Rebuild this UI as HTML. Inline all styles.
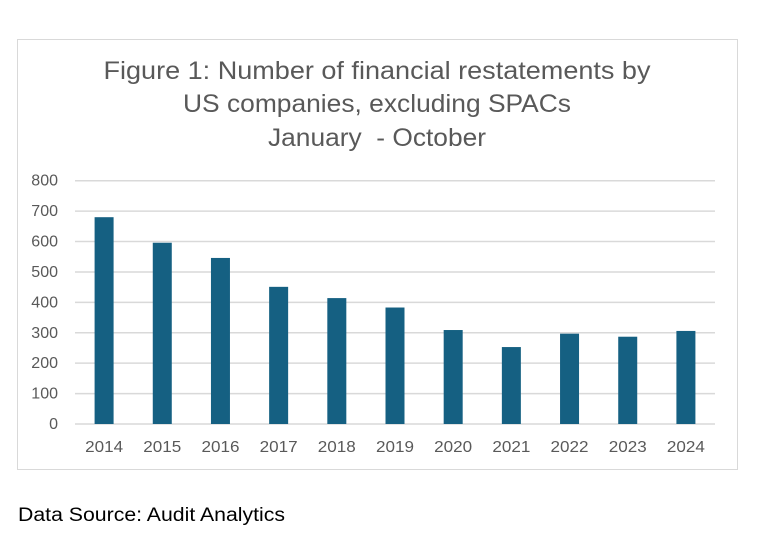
<!DOCTYPE html>
<html><head><meta charset="utf-8"><style>
body{margin:0;background:#fff;width:772px;height:544px;overflow:hidden;font-family:"Liberation Sans",sans-serif;}
</style></head><body>
<svg width="772" height="544">
<rect x="17.5" y="39.5" width="720" height="430" fill="#fff" stroke="#d9d9d9"/>
<g fill="#595959" font-size="25" text-anchor="middle">
<text x="377" y="79" textLength="547" lengthAdjust="spacingAndGlyphs">Figure 1: Number of financial restatements by</text>
<text x="377" y="112" textLength="388" lengthAdjust="spacingAndGlyphs">US companies, excluding SPACs</text>
<text x="377" y="146" xml:space="preserve" textLength="218" lengthAdjust="spacingAndGlyphs">January  - October</text>
</g>
<g id="grid"></g><g id="bars"></g><g id="ylab"></g><g id="xlab"></g>
<text x="18" y="521" font-size="19" fill="#000" textLength="267" lengthAdjust="spacingAndGlyphs">Data Source: Audit Analytics</text>
</svg>
<script>
const categories=["2014","2015","2016","2017","2018","2019","2020","2021","2022","2023","2024"];
const values=[680,596,546,451,414,383,309,253,297,287,306];
const yTicks=[0,100,200,300,400,500,600,700,800];
const NS="http://www.w3.org/2000/svg";
const x0=75,x1=715,y0=424,yTop=180.7,yMax=800;
const y=v=>y0-(v/yMax)*(y0-yTop);
const band=(x1-x0)/categories.length;
const xc=i=>x0+band*(i+0.5);
function mk(t,a,p){const e=document.createElementNS(NS,t);for(const k in a)e.setAttribute(k,a[k]);p.appendChild(e);return e;}
const g=document.getElementById('grid'),b=document.getElementById('bars'),yl=document.getElementById('ylab'),xl=document.getElementById('xlab');
yTicks.forEach(v=>{
 const l=mk('line',{x1:x0,x2:x1,y1:y(v),y2:y(v),stroke:'#d9d9d9','stroke-width':1.5},g);
 
 
 const t=mk('text',{x:58,y:y(v)+5,'text-anchor':'end','font-size':16,fill:'#595959'},yl);
 t.textContent=v;
 
 
});
categories.forEach((c,i)=>{
 const r=mk('rect',{x:xc(i)-9.5,y:y(values[i]),width:19,height:y0-y(values[i]),fill:'#156082'},b);
 
 
 const t=mk('text',{x:xc(i),y:452,'text-anchor':'middle','font-size':16,fill:'#595959',textLength:38,lengthAdjust:'spacingAndGlyphs'},xl);
 t.textContent=c;
 
 
});
</script>
</body></html>
